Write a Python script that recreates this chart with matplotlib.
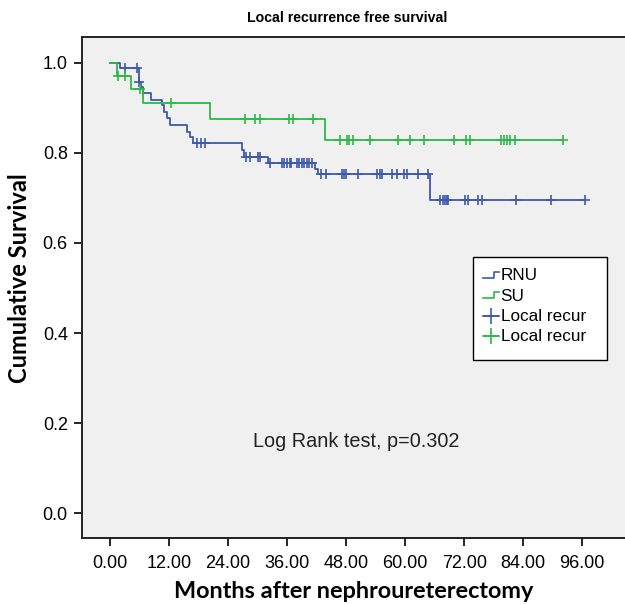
import numpy as np
import matplotlib
matplotlib.use("Agg")
import matplotlib.pyplot as plt
from matplotlib.lines import Line2D
from matplotlib.patches import Rectangle
from matplotlib.legend_handler import HandlerBase

# ---- data ----
rnu_event_times = [0, 2.0, 5.8, 6.3, 6.8, 8.3, 10.5, 11.0, 11.6, 12.2, 15.6, 16.2, 16.8,
                   26.8, 27.2, 32.2, 41.7, 42.3, 65.0]
rnu_surv = [1.0, 0.988, 0.958, 0.945, 0.932, 0.918, 0.905, 0.891, 0.877, 0.862, 0.847, 0.835, 0.821,
            0.806, 0.791, 0.777, 0.763, 0.752, 0.695]
rnu_censor = [3.0, 5.4, 6.0, 17.6, 18.6, 19.3, 27.6, 28.5, 30.1, 30.5, 32.5, 34.9, 35.4, 35.9,
              36.5, 36.9, 38.0, 38.5, 39.0, 39.4, 40.0, 40.5, 41.0, 43.0, 44.0, 47.1, 47.6, 48.0,
              50.5, 54.2, 54.8, 55.2, 57.3, 58.3, 59.8, 60.3, 62.7, 64.7, 67.1, 67.6, 68.1, 68.6,
              68.8, 72.2, 72.7, 74.9, 75.6, 82.5, 89.6, 96.5]

su_event_times = [0, 1.4, 4.3, 6.8, 20.3, 43.7]
su_surv = [1.0, 0.970, 0.941, 0.910, 0.874, 0.828]
su_censor = [1.7, 3.0, 6.2, 12.4, 27.4, 29.5, 30.5, 36.3, 37.2, 41.2, 46.7, 48.1, 48.6, 49.5,
             52.8, 58.6, 61.0, 63.8, 69.9, 72.4, 73.2, 79.5, 80.2, 80.8, 81.3, 82.3, 92.0]

group_labels = ["RNU", "SU"]
censor_labels = ["Local recur", "Local recur"]
x_ticks = [0, 12, 24, 36, 48, 60, 72, 84, 96]
x_tick_labels = ["0.00", "12.00", "24.00", "36.00", "48.00", "60.00", "72.00", "84.00", "96.00"]
y_ticks = [0.0, 0.2, 0.4, 0.6, 0.8, 1.0]
y_tick_labels = ["0.0", "0.2", "0.4", "0.6", "0.8", "1.0"]

title = "Local recurrence free survival"
xlabel = "Months after nephroureterectomy"
ylabel = "Cumulative Survival"
annotation = "Log Rank test, p=0.302"

BLUE = "#3E58AC"
GREEN = "#2EB848"

W, H = 625, 604
fig = plt.figure(figsize=(W / 100, H / 100), dpi=100)
fig.patch.set_facecolor("white")

ax = fig.add_axes([81.7 / W, 1 - 538 / H, 1 - 81.7 / W, (538 - 37) / H])
ax.set_facecolor("#F0F0F0")
ax.set_xlim(-5.75, 104.7)
ax.set_ylim(-0.055, 1.057)

def km_curve(ax, times, surv, censor, color):
    end = max(censor[-1], times[-1])
    t = list(times) + [end]
    s = list(surv) + [surv[-1]]
    ax.step(t, s, where="post", color=color, lw=1.3, zorder=3)
    idx = np.searchsorted(np.array(times), np.array(censor), side="right") - 1
    cs = np.array(surv)[idx]
    ax.plot(censor, cs, linestyle="none", marker="+", ms=7, mew=1.2, color=color, zorder=4)

km_curve(ax, rnu_event_times, rnu_surv, rnu_censor, BLUE)
km_curve(ax, su_event_times, su_surv, su_censor, GREEN)

ax.set_xticks(x_ticks)
ax.set_xticklabels(x_tick_labels, fontfamily="Liberation Sans", fontsize=13)
ax.set_yticks(y_ticks)
ax.set_yticklabels(y_tick_labels, fontfamily="Liberation Sans", fontsize=13)
ax.tick_params(axis="both", direction="out", length=6, width=1.2, color="black")
ax.tick_params(axis="x", pad=6)
ax.tick_params(axis="y", pad=4)
ax.spines["right"].set_visible(False)
for sp in ["left", "top", "bottom"]:
    ax.spines[sp].set_linewidth(1.4)
    ax.spines[sp].set_color("#222222")

ax.text(50, 0.159, annotation, ha="center", va="center",
        fontfamily="Liberation Sans", fontsize=14.3, color="#222222")

fig.text(347 / W, 1 - 18.5 / H, title, ha="center", va="center",
         fontfamily="Liberation Sans", fontweight="bold", fontsize=10.2)
fig.text(353.5 / W, 1 - 591 / H, xlabel, ha="center", va="center",
         fontfamily="Lato", fontweight="bold", fontsize=16.9)
fig.text(19.5 / W, 1 - 278 / H, ylabel, ha="center", va="center", rotation=90,
         fontfamily="Lato", fontweight="bold", fontsize=17)


class StepHandler(HandlerBase):
    def create_artists(self, legend, orig_handle, xdescent, ydescent, width, height,
                       fontsize, trans):
        x = np.array([0, 0.7, 0.7, 1.0]) * width - xdescent
        y = np.array([0.2, 0.2, 0.7, 0.7]) * height - ydescent
        ln = Line2D(x, y, color=orig_handle.get_color(), lw=1.2)
        ln.set_transform(trans)
        return [ln]


class PlusHandler(HandlerBase):
    def create_artists(self, legend, orig_handle, xdescent, ydescent, width, height,
                       fontsize, trans):
        yc = 0.4 * height - ydescent
        ln = Line2D([-xdescent, width - xdescent], [yc, yc], color=orig_handle.get_color(), lw=1.2)
        mk = Line2D([0.5 * width - xdescent], [yc], marker="+", ms=11, mew=1.2,
                    linestyle="none", color=orig_handle.get_color())
        ln.set_transform(trans)
        mk.set_transform(trans)
        return [ln, mk]


# legend frame (drawn as a figure rectangle, as in the reference)
frame = Rectangle((472.7 / W, 1 - 360 / H), (606.7 - 472.7) / W, (360 - 257.3) / H,
                  transform=fig.transFigure, facecolor="white", edgecolor="black",
                  lw=1.0, zorder=5)
fig.add_artist(frame)

h_rnu = Line2D([], [], color=BLUE)
h_su = Line2D([], [], color=GREEN)
h_c1 = Line2D([], [], color=BLUE, marker="+")
h_c2 = Line2D([], [], color=GREEN, marker="+")
step_h = StepHandler()
plus_h = PlusHandler()
leg = fig.legend([h_rnu, h_su, h_c1, h_c2], group_labels + censor_labels,
                 handler_map={h_rnu: step_h, h_su: step_h, h_c1: plus_h, h_c2: plus_h},
                 loc="upper left", bbox_to_anchor=(482.7 / W, 1 - 268.5 / H),
                 bbox_transform=fig.transFigure, borderaxespad=0, borderpad=0,
                 prop={"family": "Liberation Sans", "size": 12.3},
                 frameon=False, handlelength=0.95, handletextpad=0.1, labelspacing=0.3)
leg.set_zorder(6)

fig.savefig("out.png", dpi=100, facecolor="white")
